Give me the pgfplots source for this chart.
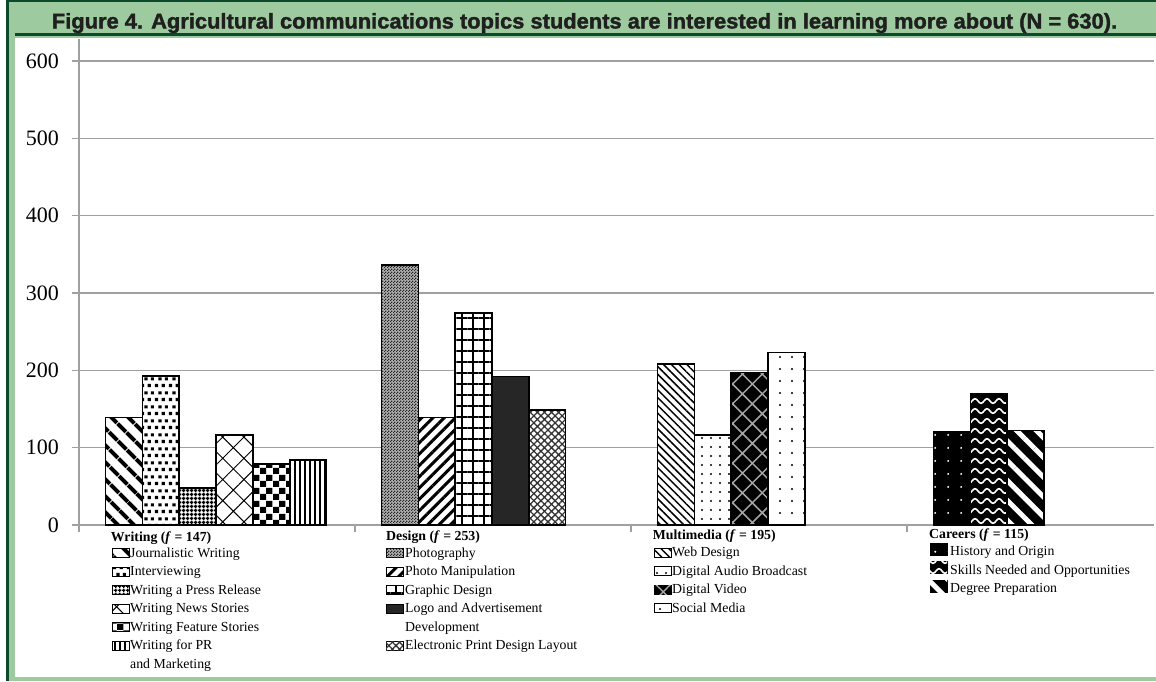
\documentclass[border=0pt]{standalone}
\usepackage{pgfplots}
\pgfplotsset{compat=1.18}
\usepackage{graphicx}
\usepackage{fontspec}
\setmainfont{Liberation Serif}
\newfontfamily\titlefont{Liberation Sans}[BoldFeatures={FakeBold=1.6}]
\usetikzlibrary{patterns,patterns.meta}
\definecolor{lgreen}{HTML}{9DCA9F}
\definecolor{dgreen}{HTML}{0D4A2C}
\definecolor{gridgray}{HTML}{A0A0A0}

\pgfdeclarepatternformonly{checker}{\pgfpointorigin}{\pgfpoint{13pt}{13pt}}{\pgfpoint{13pt}{13pt}}{%
  \pgfpathrectangle{\pgfpointorigin}{\pgfpoint{6.5pt}{6.5pt}}%
  \pgfpathrectangle{\pgfpoint{6.5pt}{6.5pt}}{\pgfpoint{6.5pt}{6.5pt}}%
  \pgfusepath{fill}}
\pgfdeclarepatternformonly{finechecker}{\pgfpointorigin}{\pgfpoint{3pt}{3pt}}{\pgfpoint{3pt}{3pt}}{%
  \pgfpathrectangle{\pgfpointorigin}{\pgfpoint{1.5pt}{1.5pt}}%
  \pgfpathrectangle{\pgfpoint{1.5pt}{1.5pt}}{\pgfpoint{1.5pt}{1.5pt}}%
  \pgfusepath{fill}}
\pgfdeclarepatternformonly{squares}{\pgfpointorigin}{\pgfpoint{14pt}{14pt}}{\pgfpoint{14pt}{14pt}}{%
  \pgfpathrectangle{\pgfpoint{1pt}{1pt}}{\pgfpoint{3.4pt}{3.4pt}}%
  \pgfpathrectangle{\pgfpoint{8pt}{1pt}}{\pgfpoint{3.4pt}{3.4pt}}%
  \pgfpathrectangle{\pgfpoint{4.5pt}{8pt}}{\pgfpoint{3.4pt}{3.4pt}}%
  \pgfpathrectangle{\pgfpoint{11.5pt}{8pt}}{\pgfpoint{3.4pt}{3.4pt}}%
  \pgfusepath{fill}}
\pgfdeclarepatternformonly{waves}{\pgfpoint{-1pt}{-4pt}}{\pgfpoint{13pt}{4pt}}{\pgfpoint{12pt}{10pt}}{%
  \pgfsetlinewidth{1.6pt}%
  \pgfpathmoveto{\pgfpoint{0pt}{0pt}}%
  \pgfpathcurveto{\pgfpoint{2pt}{3pt}}{\pgfpoint{4pt}{3pt}}{\pgfpoint{6pt}{0pt}}%
  \pgfpathcurveto{\pgfpoint{8pt}{-3pt}}{\pgfpoint{10pt}{-3pt}}{\pgfpoint{12pt}{0pt}}%
  \pgfusepath{stroke}}

\tikzset{
  p1/.style={fill=white, postaction={pattern={Lines[angle=-45,distance=13pt,line width=4.5pt]}, pattern color=black}},
  p2/.style={fill=white, postaction={pattern=squares, pattern color=black}},
  p3/.style={fill=white, postaction={pattern={Hatch[angle=0,distance=4pt,line width=1.6pt]}, pattern color=black}},
  p4/.style={fill=white, postaction={pattern={Hatch[angle=45,distance=15pt,line width=1pt]}, pattern color=black}},
  p5/.style={fill=white, postaction={pattern=checker, pattern color=black}},
  p6/.style={fill=white, postaction={pattern={Lines[angle=90,distance=5pt,line width=1.8pt]}, pattern color=black}},
  d1/.style={fill=black!30, postaction={pattern=finechecker, pattern color=black!85}},
  d2/.style={fill=white, postaction={pattern={Lines[angle=45,distance=8pt,line width=3pt]}, pattern color=black}},
  d3/.style={fill=white, postaction={pattern={Hatch[angle=0,distance=11pt,line width=2.2pt]}, pattern color=black}},
  d4/.style={fill=black!85},
  d5/.style={fill=white, postaction={pattern={Hatch[angle=45,distance=5pt,line width=1.3pt]}, pattern color=black!80}},
  m1/.style={fill=white, postaction={pattern={Lines[angle=-45,distance=5.5pt,line width=1.5pt]}, pattern color=black}},
  m2/.style={fill=white, postaction={pattern={Dots[radius=1.1pt,distance=9pt]}, pattern color=black}},
  m3/.style={fill=black, postaction={pattern={Hatch[angle=45,distance=14pt,line width=1.5pt]}, pattern color=black!35}},
  m4/.style={fill=white, postaction={pattern={Dots[radius=1.1pt,distance=12pt]}, pattern color=black}},
  c1/.style={fill=black, postaction={pattern={Dots[radius=1.1pt,distance=13pt]}, pattern color=white}},
  c2/.style={fill=black, postaction={pattern=waves, pattern color=white}},
  c3/.style={fill=black, postaction={pattern={Lines[angle=-45,distance=14pt,line width=5pt]}, pattern color=white}},
  lt/.style={anchor=base west, inner sep=0pt, font=\fontsize{13.8}{16}\selectfont},
  lh/.style={anchor=base west, inner sep=0pt, font=\fontsize{13.8}{16}\selectfont\bfseries},
}
\pgfplotsset{bb/.style={ybar, bar width=0.1333, bar shift=0pt, draw=black, line width=1.6pt}}

\begin{document}
\begin{tikzpicture}[x=1pt,y=-1pt]
\useasboundingbox (0,0) rectangle (1156,681);
\fill[white] (0,0) rectangle (1156,681);
\fill[lgreen] (6,0) rectangle (1156,681);
\fill[dgreen] (6,0) rectangle (1156,2);
\fill[dgreen] (6,0) rectangle (8.5,681);
\fill[dgreen] (15,32.5) rectangle (1156,35.5);
\fill[white] (15,38) rectangle (1156,677);
\node[anchor=base, inner sep=0pt, text=black!88] at (584.5,28.5)
  {\resizebox{1065pt}{15.5pt}{\titlefont\bfseries Figure 4. Agricultural communications topics students are interested in learning more about (N = 630).}};

\begin{axis}[
  at={(79pt,-525pt)}, anchor=south west,
  scale only axis, width=1075pt, height=486pt,
  xmin=0, xmax=3.895, ymin=0, ymax=628.4,
  axis x line*=bottom, axis y line*=left,
  axis line style={gridgray, line width=1.5pt},
  ytick={0,100,...,600},
  ymajorgrids, grid style={gridgray, line width=1.5pt},
  xtick={0,1,2,3}, xticklabels={},
  tick align=outside, major tick length=7pt,
  tick style={gridgray, line width=1.2pt},
  yticklabel={\fontsize{22}{26}\selectfont\pgfmathprintnumber[assume math mode=true]{\tick}},
  yticklabel style={anchor=east, inner sep=0pt, xshift=-13pt},
  clip=false,
]
% Writing
\addplot[bb, p1] coordinates {(0.163,139)};
\addplot[bb, p2] coordinates {(0.296,193)};
\addplot[bb, p3] coordinates {(0.429,48)};
\addplot[bb, p4] coordinates {(0.563,116)};
\addplot[bb, p5] coordinates {(0.696,79)};
\addplot[bb, p6] coordinates {(0.829,84)};
% Design
\addplot[bb, d1] coordinates {(1.163,336)};
\addplot[bb, d2] coordinates {(1.296,139)};
\addplot[bb, d3] coordinates {(1.429,274)};
\addplot[bb, d4] coordinates {(1.563,192)};
\addplot[bb, d5] coordinates {(1.696,149)};
% Multimedia
\addplot[bb, m1] coordinates {(2.163,208)};
\addplot[bb, m2] coordinates {(2.296,116)};
\addplot[bb, m3] coordinates {(2.429,197)};
\addplot[bb, m4] coordinates {(2.563,223)};
% Careers
\addplot[bb, c1] coordinates {(3.163,121)};
\addplot[bb, c2] coordinates {(3.296,170)};
\addplot[bb, c3] coordinates {(3.429,122)};
\end{axis}

% Legend: Writing
\node[lh] at (110.7,541.7) {Writing (\textit{f} = 147)};
\draw[p1, line width=1pt] (112,548.5) rectangle (129,557.5);
\node[lt] at (130,557.3) {Journalistic Writing};
\draw[p2, line width=1pt] (112,567) rectangle (129,576);
\node[lt] at (130,575.8) {Interviewing};
\draw[p3, line width=1pt] (112,585.5) rectangle (129,594.5);
\node[lt] at (130,594.3) {Writing a Press Release};
\draw[p4, line width=1pt] (112,604) rectangle (129,613);
\node[lt] at (130,612.8) {Writing News Stories};
\draw[p5, line width=1pt] (112,622.5) rectangle (129,631.5);
\node[lt] at (130,631.3) {Writing Feature Stories};
\draw[p6, line width=1pt] (112,641) rectangle (129,650);
\node[lt] at (130,649.8) {Writing for PR};
\node[lt] at (130,668.3) {and Marketing};
% Legend: Design
\node[lh] at (386,540.5) {Design (\textit{f} = 253)};
\draw[d1, line width=1pt] (386,548.5) rectangle (403,557.5);
\node[lt] at (405,557.3) {Photography};
\draw[d2, line width=1pt] (386,567) rectangle (403,576);
\node[lt] at (405,575.8) {Photo Manipulation};
\draw[d3, line width=1pt] (386,585.5) rectangle (403,594.5);
\node[lt] at (405,594.3) {Graphic Design};
\draw[d4, line width=1pt] (386,604) rectangle (403,613);
\node[lt] at (405,612.8) {Logo and Advertisement};
\node[lt] at (405,631.3) {Development};
\draw[d5, line width=1pt] (386,641) rectangle (403,650);
\node[lt] at (405,649.8) {Electronic Print Design Layout};
% Legend: Multimedia
\node[lh] at (652.7,539.5) {Multimedia (\textit{f} = 195)};
\draw[m1, line width=1pt] (654,548) rectangle (671,557);
\node[lt] at (672,556.7) {Web Design};
\draw[m2, line width=1pt] (654,566.5) rectangle (671,575.5);
\node[lt] at (672,575.2) {Digital Audio Broadcast};
\draw[m3, line width=1pt] (654,585) rectangle (671,594);
\node[lt] at (672,593.7) {Digital Video};
\draw[m4, line width=1pt] (654,603.5) rectangle (671,612.5);
\node[lt] at (672,612.2) {Social Media};
% Legend: Careers
\node[lh] at (929,538.5) {Careers (\textit{f} = 115)};
\draw[c1, line width=1pt] (930,543) rectangle (947,555);
\node[lt] at (950,555.7) {History and Origin};
\draw[c2, line width=1pt] (930,561.5) rectangle (947,573.5);
\node[lt] at (950,574.2) {Skills Needed and Opportunities};
\draw[c3, line width=1pt] (930,580) rectangle (947,592);
\node[lt] at (950,592.7) {Degree Preparation};
\end{tikzpicture}
\end{document}
